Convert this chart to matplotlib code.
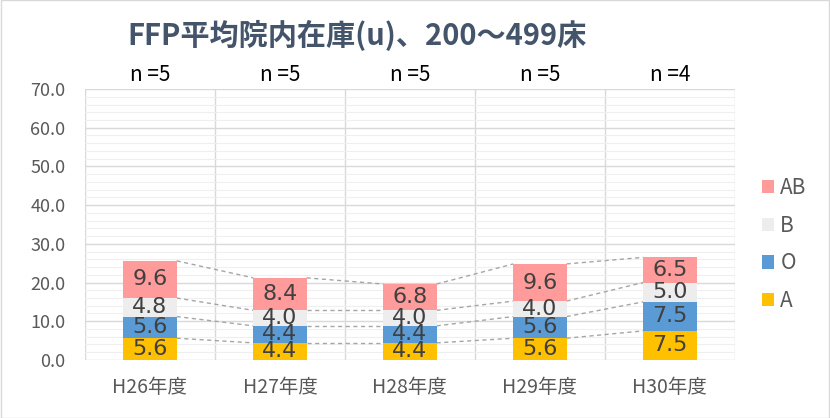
import matplotlib
matplotlib.use("Agg")
import matplotlib.pyplot as plt
import numpy as np
from matplotlib.patches import Rectangle

plt.rcParams['font.family'] = ['Noto Sans CJK JP', 'DejaVu Sans']

categories = ["H26年度", "H27年度", "H28年度", "H29年度", "H30年度"]
n_labels = ["n =5", "n =5", "n =5", "n =5", "n =4"]
series_names = ["A", "O", "B", "AB"]
A = [5.6, 4.4, 4.4, 5.6, 7.5]
O = [5.6, 4.4, 4.4, 5.6, 7.5]
B = [4.8, 4.0, 4.0, 4.0, 5.0]
AB = [9.6, 8.4, 6.8, 9.6, 6.5]
colors = ["#FFC000", "#5B9BD5", "#EDEDED", "#FF9B9B"]
title = "FFP平均院内在庫(u)、200～499床"

fig = plt.figure(figsize=(8.3, 4.18), dpi=100)
ax = fig.add_axes([0.1024, 0.139, 0.783, 0.648])

x = np.arange(len(categories))
width = 0.41
data = [A, O, B, AB]
bottom = np.zeros(len(categories))
for vals, col, name in zip(data, colors, series_names):
    vals = np.array(vals)
    ax.bar(x, vals, width, bottom=bottom, color=col, label=name, zorder=3)
    for xi, b, v in zip(x, bottom, vals):
        ax.text(xi, b + v / 2, f"{v:.1f}", ha='center', va='center',
                fontsize=16, color='#404040', zorder=5, family='DejaVu Sans')
    top = bottom + vals
    for i in range(len(categories) - 1):
        ax.plot([x[i] + width / 2, x[i + 1] - width / 2], [top[i], top[i + 1]],
                ls=(0, (3, 2.5)), color='#A6A6A6', lw=1, zorder=2)
    bottom = top

ax.set_xlim(-0.5, len(categories) - 0.5)
ax.set_ylim(0, 70)
ax.set_yticks(np.arange(0, 71, 10))
ax.set_yticklabels([f"{v:.1f}" for v in np.arange(0, 71, 10)])
ax.set_yticks(np.arange(0, 71, 2), minor=True)
ax.set_xticks(x)
ax.set_xticklabels(categories)
ax.grid(axis='y', which='major', color='#D9D9D9', lw=1, zorder=0)
ax.grid(axis='y', which='minor', color='#EFEFEF', lw=0.8, zorder=0)
for b in np.arange(-0.5, len(categories), 1.0):
    ax.axvline(b, color='#D9D9D9', lw=1, zorder=1)
for s in ax.spines.values():
    s.set_visible(False)
ax.tick_params(axis='both', which='both', length=0, colors='#595959')
ax.tick_params(axis='y', pad=14, labelsize=13)
ax.tick_params(axis='x', pad=12, labelsize=14)

for xi, nl in zip(x, n_labels):
    ax.text(xi, 1.01, nl, transform=ax.get_xaxis_transform(), ha='center', va='bottom',
            fontsize=15, color='#000000')

fig.text(0.43, 0.915, title, ha='center', va='center', fontsize=21,
         fontweight='bold', color='#44546A')

handles, labels = ax.get_legend_handles_labels()
leg = fig.legend(handles[::-1], labels[::-1], loc='center left', bbox_to_anchor=(0.895, 0.415),
                 frameon=False, fontsize=15, handlelength=0.6, handleheight=0.6,
                 handletextpad=0.3, labelspacing=0.75, labelcolor='#595959')

fig.add_artist(Rectangle((0.001, 0.001), 0.998, 0.998, transform=fig.transFigure,
                         fill=False, edgecolor='#D9D9D9', lw=1))

fig.savefig("out.png", dpi=100)
